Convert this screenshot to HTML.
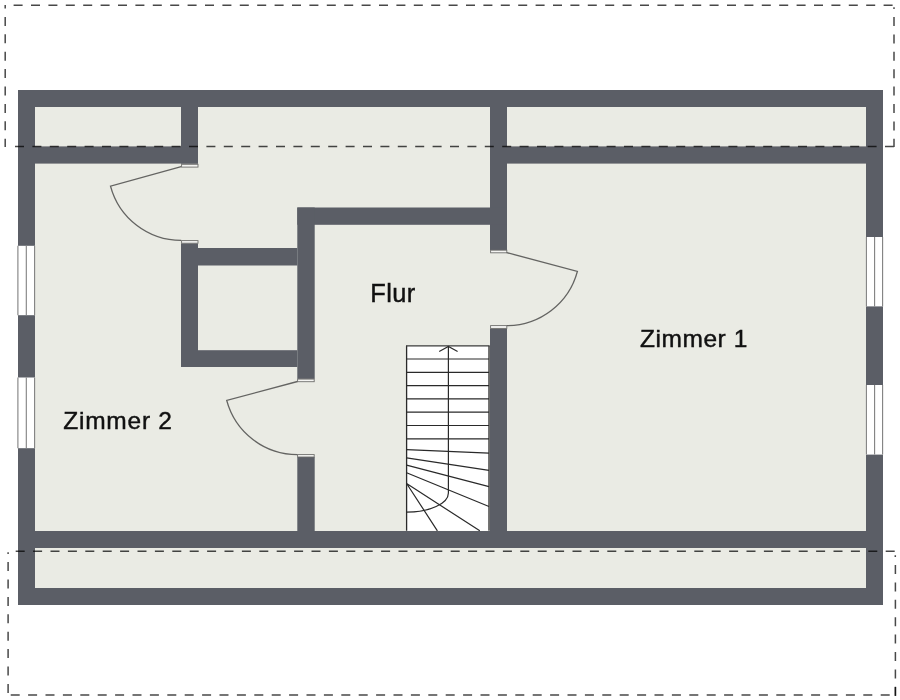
<!DOCTYPE html>
<html><head><meta charset="utf-8">
<style>
html,body{margin:0;padding:0;background:#fff;width:900px;height:700px;overflow:hidden}
svg{display:block}
text{font-family:"Liberation Sans",sans-serif;fill:#111;stroke:#111;stroke-width:0.45px}
.lbl{will-change:transform}
</style></head>
<body>
<svg width="900" height="700" viewBox="0 0 900 700">
<rect x="0" y="0" width="900" height="700" fill="#fff"/>
<!-- floor -->
<rect x="18" y="90" width="865" height="515" fill="#eaebe4"/>
<g fill="#5b5e66">
<!-- outer walls -->
<rect x="18" y="90" width="865" height="17"/>
<rect x="18" y="588" width="865" height="17"/>
<rect x="18" y="90" width="17" height="515"/>
<rect x="866" y="90" width="17" height="515"/>
<!-- interior -->
<rect x="35" y="146.4" width="163" height="17.2"/>
<rect x="181" y="107" width="17" height="56.6"/>
<rect x="490" y="107" width="17" height="143"/>
<rect x="507" y="146.4" width="359" height="17.2"/>
<rect x="297.3" y="207.5" width="209.7" height="17.3"/>
<rect x="297.3" y="207.5" width="17.4" height="171.4"/>
<rect x="181" y="243.3" width="17" height="123.7"/>
<rect x="198" y="248" width="99.3" height="17.5"/>
<rect x="198" y="350.2" width="99.3" height="16.8"/>
<rect x="297.3" y="457" width="17.4" height="74"/>
<rect x="490" y="328.5" width="17" height="202.5"/>
<rect x="35" y="531" width="831" height="17"/>
</g>
<!-- sills -->
<g fill="#f4f4f2" stroke="#6e6e6c" stroke-width="0.9">
<rect x="181.6" y="164.3" width="16.4" height="2.8"/>
<rect x="181.6" y="240.6" width="16.4" height="2.6"/>
<rect x="490.6" y="250.2" width="16.2" height="2.6"/>
<rect x="490.6" y="325.6" width="16.2" height="2.8"/>
<rect x="297.6" y="379.1" width="16.6" height="2.6"/>
<rect x="297.6" y="454.6" width="16.6" height="2.4"/>
</g>
<!-- doors -->
<g fill="none" stroke="#646462" stroke-width="1.35">
<path d="M181.2,166.6 L110.5,186.1 A73.2,73.2 0 0 0 181.2,240.4"/>
<path d="M506.8,252.6 L577.4,271.4 A73,73 0 0 1 506.8,325.6"/>
<path d="M297.5,381.5 L226.7,400.4 A73.2,73.2 0 0 0 297.5,454.6"/>
</g>
<!-- windows -->
<g fill="#fff">
<rect x="17.5" y="245.8" width="17.5" height="69.4"/>
<rect x="17.5" y="377.5" width="17.5" height="70.7"/>
<rect x="865.8" y="237" width="17.5" height="69.4"/>
<rect x="865.8" y="385" width="17.5" height="69.6"/>
</g>
<g stroke="#808080" stroke-width="1.1">
<path d="M17.9,245.8 V315.2 M26.3,245.8 V315.2 M34.6,245.8 V315.2"/>
<path d="M17.9,377.5 V448.2 M26.3,377.5 V448.2 M34.6,377.5 V448.2"/>
<path d="M866.4,237 V306.4 M874.6,237 V306.4 M882.6,237 V306.4"/>
<path d="M866.4,385 V454.6 M874.6,385 V454.6 M882.6,385 V454.6"/>
</g>
<!-- stairs -->
<rect x="406.6" y="345.7" width="82.4" height="185.1" fill="#fff"/>
<path d="M406.6,345.8 V530.8 M489,345.8 V530.8" stroke="#2a2a2a" stroke-width="1.3" fill="none"/>
<path d="M406,345.9 H489.6" stroke="#3a3a3a" stroke-width="1.2" fill="none"/>
<g stroke="#2a2a2a" stroke-width="1.2" fill="none">
<path d="M406.6,359 H489 M406.6,372.3 H489 M406.6,385.6 H489 M406.6,398.9 H489 M406.6,412.2 H489 M406.6,425.5 H489 M406.6,438.8 H489"/>
<path d="M406.6,449.7 L489,453.1 M406.6,457.9 L489,470.3 M406.6,465.1 L489,486.6 M406.6,472.8 L489,506.5 M406.6,483.5 L479.8,530.8 M406.6,483.5 L437.4,530.8"/>
<path d="M448.4,346 V493 A41.8,19.2 0 0 1 406.6,512.2"/>
<path d="M439.2,351.4 L448.4,346.4 L457.6,351.4" stroke-width="1.1"/>
</g>
<!-- dashed outlines -->
<g stroke="#484848" stroke-width="1.5" fill="none" stroke-dasharray="9 8.4" style="mix-blend-mode:multiply">
<line x1="13.6" y1="5.3" x2="894" y2="5.3"/>
<line x1="5.2" y1="16.9" x2="5.2" y2="147"/>
<line x1="894" y1="17" x2="894" y2="147"/>
<line x1="15" y1="146.4" x2="894" y2="146.4"/>
<line x1="15.7" y1="551.2" x2="895" y2="551.2"/>
<line x1="8.1" y1="562.1" x2="8.1" y2="695"/>
<line x1="895.4" y1="565" x2="895.4" y2="696"/>
<line x1="10.7" y1="695" x2="895" y2="695"/>
</g>
<g stroke="#484848" stroke-width="1.5" fill="none" style="mix-blend-mode:multiply">
<path d="M5.2,5.1 V8.6 M894,7.2 V8.9 M8.1,552.2 V554 M895.3,555.2 V556.9 M895.4,687 V696"/>
</g>
<!-- labels -->
<g class="lbl">
<text x="370.2" y="302.2" font-size="25.4" letter-spacing="0.45">Flur</text>
<text x="640" y="347.4" font-size="24.5" letter-spacing="0.55">Zimmer 1</text>
<text x="63.3" y="429" font-size="24.5" letter-spacing="0.75">Zimmer 2</text>
</g>
</svg>
</body></html>
